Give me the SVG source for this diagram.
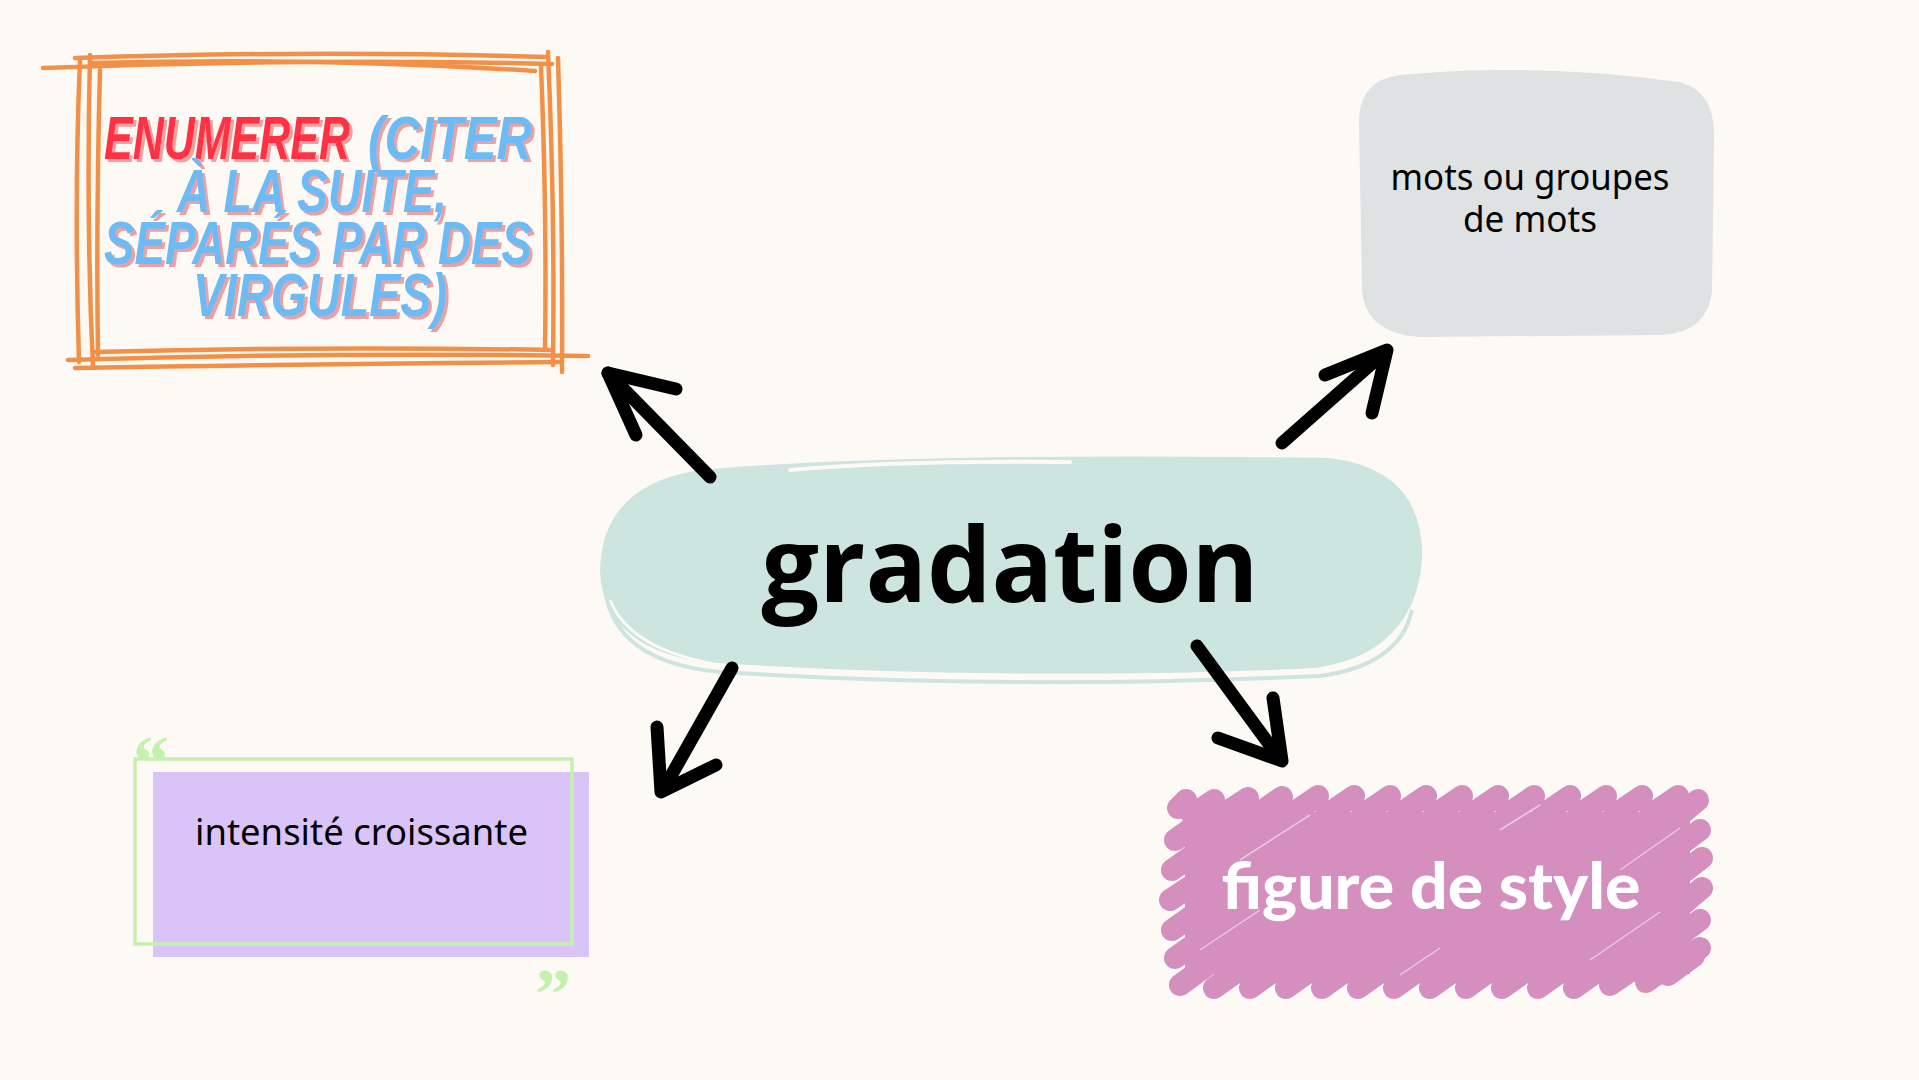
<svg xmlns="http://www.w3.org/2000/svg" width="1919" height="1080" viewBox="0 0 1919 1080">
<defs>
<style>
.orange{fill:none;stroke:#F39048;stroke-width:4.5;stroke-linecap:round}
.arrow{fill:none;stroke:#000;stroke-width:13;stroke-linecap:round;stroke-linejoin:round}
.big{font-family:"Liberation Sans Narrow","Liberation Sans",Arial,sans-serif;font-weight:bold;font-style:italic;font-size:62px}
.hand{font-family:"Noto Sans","Open Sans",sans-serif;fill:#000}
.pink{stroke:#D48FBE;stroke-width:22;stroke-linecap:round;fill:none}
.quote{font-family:"Liberation Serif",serif;font-weight:bold;font-size:72px;fill:#C6F0AE}
</style>
<filter id="shadow" x="-5%" y="-20%" width="110%" height="140%">
<feDropShadow dx="3" dy="3" stdDeviation="0" flood-color="#EBA0A2" flood-opacity="1"/>
</filter>
</defs>
<rect width="1919" height="1080" fill="#FDFAF5"/>

<g id="node-enumerer">
<path class="orange" d="M43,68 Q300,58 552,64"/>
<path class="orange" d="M75,58 Q320,50 545,57"/>
<path class="orange" d="M90,63 Q320,57 535,71"/>
<path class="orange" d="M80,60 Q74,200 79,362"/>
<path class="orange" d="M90,55 Q86,220 93,368"/>
<path class="orange" d="M100,70 Q96,220 98,355"/>
<path class="orange" d="M548,52 Q555,210 553,365"/>
<path class="orange" d="M558,58 Q563,220 562,372"/>
<path class="orange" d="M541,66 Q547,210 545,350"/>
<path class="orange" d="M68,360 Q330,352 588,356"/>
<path class="orange" d="M75,368 Q300,364 560,362"/>
<path class="orange" d="M95,352 Q320,346 550,350"/>
<g class="big" filter="url(#shadow)">
<text x="104" y="159" fill="#FF3045" textLength="246" lengthAdjust="spacingAndGlyphs">ENUMERER</text>
<text x="368" y="159" fill="#6DBBF5" textLength="164" lengthAdjust="spacingAndGlyphs">(CITER</text>
<text x="177" y="212" fill="#6DBBF5" textLength="270" lengthAdjust="spacingAndGlyphs">À LA SUITE,</text>
<text x="104" y="264" fill="#6DBBF5" textLength="428" lengthAdjust="spacingAndGlyphs">SÉPARÉS PAR DES</text>
<text x="193" y="316" fill="#6DBBF5" textLength="254" lengthAdjust="spacingAndGlyphs">VIRGULES)</text>
</g>
</g>

<g id="node-mots">
<path d="M1400,75 Q1530,62 1680,82 Q1716,92 1714,140 L1712,290 Q1708,333 1660,335 L1420,337 Q1365,333 1362,290 L1359,120 Q1360,80 1400,75 Z" fill="#DFE2E2"/>
<text class="hand" x="1530" y="190" font-size="36" text-anchor="middle" textLength="279" lengthAdjust="spacingAndGlyphs">mots ou groupes</text>
<text class="hand" x="1530" y="232" font-size="36" text-anchor="middle" textLength="134" lengthAdjust="spacingAndGlyphs">de mots</text>
</g>

<g id="node-gradation">
<path d="M700,470 Q900,452 1330,458 Q1425,470 1422,560 Q1415,650 1320,668 Q1000,682 700,662 Q602,645 600,570 Q602,485 700,470 Z" fill="#CCE5DE"/>
<path d="M610,600 Q630,650 720,665 Q1000,685 1310,670 Q1390,660 1410,610" fill="none" stroke="#FDFAF5" stroke-width="3"/>
<path d="M790,470 Q900,460 1070,462" fill="none" stroke="#FDFAF5" stroke-width="4" stroke-linecap="round"/>
<path d="M605,590 Q615,662 720,672 Q1000,690 1320,676 Q1400,665 1412,610" fill="none" stroke="#CCE5DE" stroke-width="4"/>
<text x="1010" y="602" font-family="'Open Sans','Noto Sans',sans-serif" font-weight="bold" font-size="104" text-anchor="middle" textLength="497" lengthAdjust="spacingAndGlyphs" fill="#000">gradation</text>
</g>

<g id="node-intensite">
<rect x="153" y="772" width="436" height="185" fill="#DAC4F7"/>
<rect x="135" y="759" width="437" height="185" fill="none" stroke="#C6F0AE" stroke-width="3.5"/>
<text class="quote" x="133" y="785">“</text>
<text class="quote" x="535" y="1018">”</text>
<text class="hand" x="195" y="845" font-size="36" textLength="333" lengthAdjust="spacingAndGlyphs">intensité croissante</text>
</g>

<g id="node-figure">
<rect x="1185" y="812" width="505" height="162" fill="#D48FBE"/>
<g class="pink">
<path d="M1178,808 L1186,800 M1192,815 L1214,800 M1222,815 L1248,798 M1256,815 L1282,797 M1290,815 L1318,796 M1326,815 L1354,796 M1362,815 L1390,796 M1398,815 L1426,796 M1434,815 L1462,796 M1470,815 L1498,796 M1506,815 L1534,796 M1542,815 L1570,796 M1578,815 L1606,796 M1614,815 L1642,796 M1650,815 L1678,796 M1672,822 L1698,800"/>
<path d="M1180,985 L1206,966 M1214,988 L1242,968 M1250,988 L1278,968 M1286,988 L1314,968 M1322,988 L1350,968 M1358,988 L1386,968 M1394,988 L1422,968 M1430,988 L1458,968 M1466,988 L1494,968 M1502,988 L1530,968 M1538,988 L1566,968 M1574,988 L1602,968 M1610,985 L1638,966 M1646,982 L1674,962 M1668,975 L1694,956"/>
<path d="M1175,840 L1200,822 M1172,870 L1200,850 M1170,900 L1200,880 M1172,930 L1200,910 M1175,958 L1200,940"/>
<path d="M1680,845 L1700,830 M1680,875 L1702,858 M1682,905 L1702,888 M1680,935 L1700,920 M1682,960 L1700,948"/>
</g>
<g stroke="#F2D6E8" stroke-width="1.5" fill="none" opacity="0.8">
<path d="M1240,860 L1310,815 M1500,830 L1540,805 M1620,870 L1680,828 M1200,950 L1260,910 M1590,960 L1660,912 M1400,975 L1440,948"/>
</g>
<text x="1431" y="909" font-family="Lato,'Open Sans',sans-serif" font-weight="900" font-size="64" text-anchor="middle" textLength="419" lengthAdjust="spacingAndGlyphs" fill="#FFFFFF">figure de style</text>
</g>

<g id="connectors">
<path class="arrow" d="M710,477 L608,373"/>
<path class="arrow" d="M676,389 L608,373 L636,435"/>
<path class="arrow" d="M1282,443 L1385,352"/>
<path class="arrow" d="M1325,375 L1387,350 L1372,413"/>
<path class="arrow" d="M732,668 L663,790"/>
<path class="arrow" d="M657,727 L661,792 L716,765"/>
<path class="arrow" d="M1197,646 L1280,759"/>
<path class="arrow" d="M1218,738 L1282,761 L1273,698"/>
</g>
</svg>
